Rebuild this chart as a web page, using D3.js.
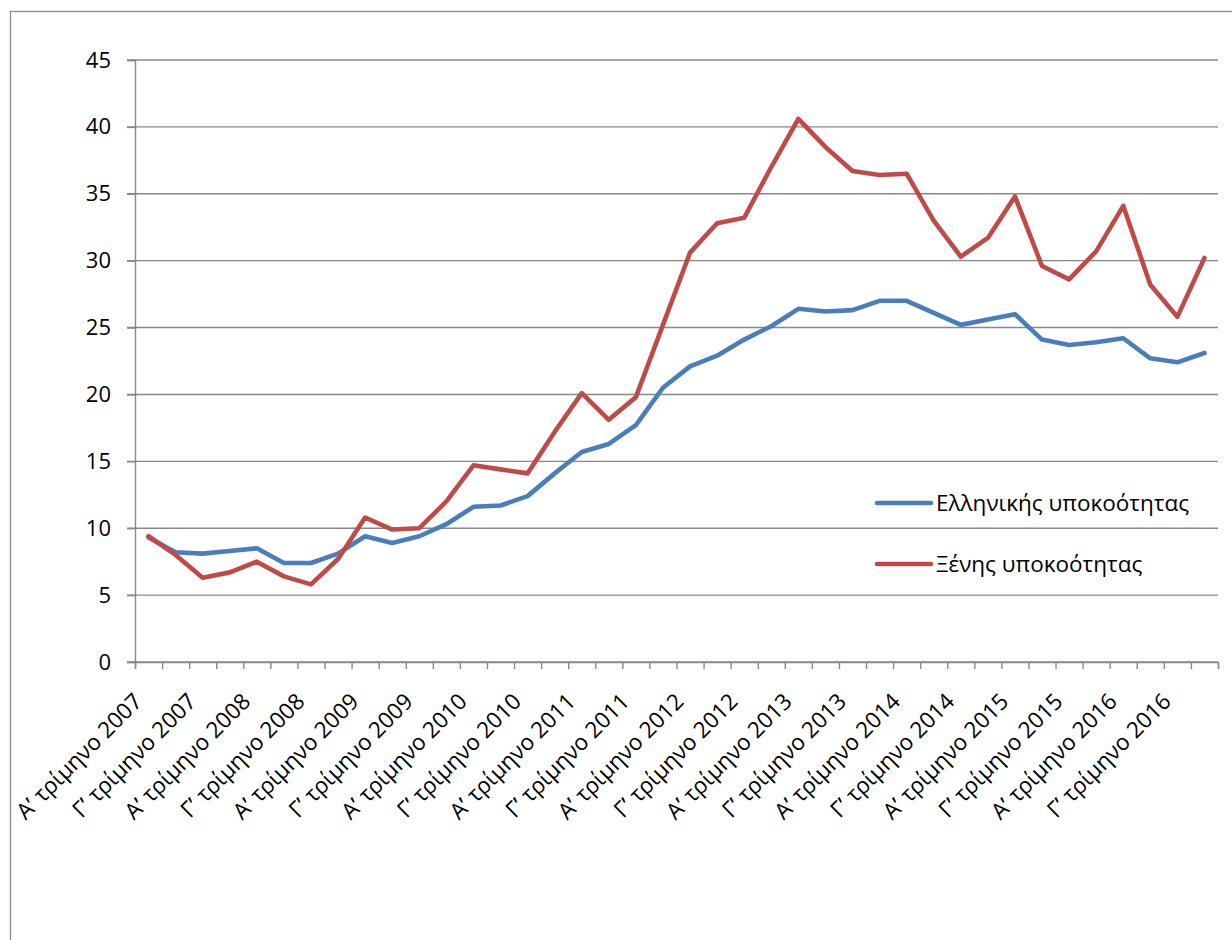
<!DOCTYPE html>
<html><head><meta charset="utf-8">
<script src="https://cdn.jsdelivr.net/npm/d3@7"></script>
<style>html,body{margin:0;padding:0;background:#fff;}svg{display:block;}</style>
</head><body>
<script>
const years = [2007,2008,2009,2010,2011,2012,2013,2014,2015,2016];
const quarterNames = ["Αʹ","Βʹ","Γʹ","Δʹ"];
const categories = [];
years.forEach(y => quarterNames.forEach(q => categories.push(q + " τρίμηνο " + y)));
const seriesNames = ["Ελληνικής υποκοότητας", "Ξένης υποκοότητας"];
const greek = [9.3,8.2,8.1,8.3,8.5,7.4,7.4,8.1,9.4,8.9,9.4,10.3,11.6,11.7,12.4,14.1,15.7,16.3,17.7,20.5,22.1,22.9,24.1,25.1,26.4,26.2,26.3,27.0,27.0,26.1,25.2,25.6,26.0,24.1,23.7,23.9,24.2,22.7,22.4,23.1];
const foreign = [9.4,8.0,6.3,6.7,7.5,6.4,5.8,7.7,10.8,9.9,10.0,12.0,14.7,14.4,14.1,17.2,20.1,18.1,19.8,25.2,30.6,32.8,33.2,37.0,40.6,38.5,36.7,36.4,36.5,33.0,30.3,31.7,34.8,29.6,28.6,30.7,34.1,28.2,25.8,30.2];
const yTicks = [0,5,10,15,20,25,30,35,40,45];
const colors = ["#4A7EBB","#BE4B48"];

const W = 1232, H = 940;
const svg = d3.select("body").append("svg").attr("width", W).attr("height", H);
const FONT = "'Open Sans', 'Noto Sans', sans-serif";

// outer frame
svg.append("rect").attr("x",10.5).attr("y",11.5).attr("width",W+20).attr("height",H+20)
  .attr("fill","none").attr("stroke","#8c8c8c").attr("stroke-width",1.3);

const x = d3.scaleLinear().domain([0, categories.length]).range([135, 1218]);
const y = d3.scaleLinear().domain([0,45]).range([662, 60]);

// gridlines
svg.append("g").selectAll("line").data(yTicks).join("line")
  .attr("x1",127).attr("x2",1218).attr("y1",d=>y(d)).attr("y2",d=>y(d))
  .attr("stroke","#888").attr("stroke-width",1.4);

// y axis
const yAxis = svg.append("g").attr("transform","translate(135,0)")
  .call(d3.axisLeft(y).tickValues(yTicks).tickSize(8).tickPadding(16));
yAxis.select(".domain").attr("stroke","#888").attr("stroke-width",1.4);
yAxis.selectAll(".tick line").attr("stroke","#888").attr("stroke-width",1.4);
yAxis.selectAll(".tick text").attr("font-family",FONT).attr("font-size",22).attr("fill","#000");

// x axis
const xAxis = svg.append("g").attr("transform","translate(0,662)")
  .call(d3.axisBottom(x).tickValues(d3.range(categories.length+1)).tickSize(7).tickFormat(""));
xAxis.select(".domain").attr("stroke","#888").attr("stroke-width",1.4);
xAxis.selectAll(".tick line").attr("stroke","#888").attr("stroke-width",1.4);

// x labels
svg.append("g").selectAll("text").data(categories.filter((c,i)=>i%2===0)).join("text")
  .attr("transform",(d,i)=>`translate(${x(i*2+0.5)-5},${703}) rotate(-45)`)
  .attr("text-anchor","end")
  .attr("font-family",FONT).attr("font-size",22.5).attr("fill","#000")
  .text(d=>d);

// lines
const line = d3.line().x((d,i)=>x(i+0.5)).y(d=>y(d));
[greek, foreign].forEach((s,k)=>{
  svg.append("path").datum(s).attr("d",line).attr("fill","none")
    .attr("stroke",colors[k]).attr("stroke-width",4.6)
    .attr("stroke-linejoin","round").attr("stroke-linecap","round");
});

// legend
const leg = svg.append("g");
seriesNames.forEach((n,k)=>{
  const ly = 503 + k*61;
  leg.append("line").attr("x1",877).attr("x2",931).attr("y1",ly).attr("y2",ly)
    .attr("stroke",colors[k]).attr("stroke-width",4.6).attr("stroke-linecap","round");
  leg.append("text").attr("x",936).attr("y",ly).attr("dy","0.35em")
    .attr("font-family",FONT).attr("font-size",22.5).attr("fill","#000").text(n);
});
</script>
</body></html>
